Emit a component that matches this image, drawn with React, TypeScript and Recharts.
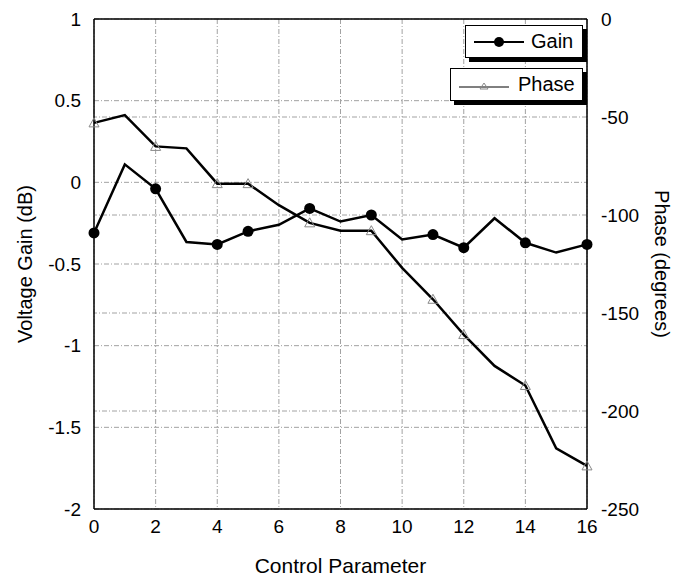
import React from 'react';
import { LineChart, Line, XAxis, YAxis, CartesianGrid, Legend, ReferenceLine } from 'recharts';

// control parameter steps
const controlParam = [0, 1, 2, 3, 4, 5, 6, 7, 8, 9, 10, 11, 12, 13, 14, 15, 16];
// voltage gain, dB (left axis)
const gainDb = [-0.31, 0.11, -0.04, -0.365, -0.38, -0.3, -0.26, -0.16, -0.24, -0.2, -0.35, -0.32, -0.4, -0.22, -0.37, -0.43, -0.38];
// phase, degrees (right axis)
const phaseDeg = [-53, -49, -65, -66, -84, -84, -95, -104, -108, -108, -127, -143, -161, -177, -187, -219, -228];
// points that carry a marker
const markedPoints = [0, 2, 4, 5, 7, 9, 11, 12, 14, 16];

const xTicks = [0, 2, 4, 6, 8, 10, 12, 14, 16];
const gainTicks = [-2, -1.5, -1, -0.5, 0, 0.5, 1];
const phaseTicks = [-250, -200, -150, -100, -50, 0];

const data = controlParam.map((x, i) => ({ x, gain: gainDb[i], phase: phaseDeg[i] }));

const FONT = '"Liberation Sans", Arial, Helvetica, sans-serif';
const gridStroke = '#8a8a8a';
const gridDash = '5 2 1 2';

const GainDot = (props: any) => {
  const { cx, cy, payload } = props;
  if (!markedPoints.includes(payload.x)) return <g key={`g${payload.x}`} />;
  return <circle key={`g${payload.x}`} cx={cx} cy={cy} r={5.5} fill="#000" />;
};

const PhaseDot = (props: any) => {
  const { cx, cy, payload } = props;
  if (!markedPoints.includes(payload.x)) return <g key={`p${payload.x}`} />;
  return (
    <path
      key={`p${payload.x}`}
      d={`M${cx},${cy - 5} L${cx + 5},${cy + 4} L${cx - 5},${cy + 4} Z`}
      fill="none"
      stroke="#888"
      strokeWidth={1}
    />
  );
};

const boxStyle: React.CSSProperties = {
  display: 'flex',
  alignItems: 'center',
  height: 33,
  background: '#fff',
  border: '1.5px solid #000',
  boxShadow: '4px 4px 0 #000',
  boxSizing: 'border-box',
  fontSize: 20,
  color: '#000',
  fontFamily: FONT,
};

const renderLegend = () => (
  <div style={{ display: 'flex', flexDirection: 'column', alignItems: 'flex-end', gap: 10 }}>
    <div style={{ ...boxStyle, width: 118, paddingLeft: 8 }}>
      <svg width={52} height={14} style={{ marginRight: 5 }}>
        <line x1={0} y1={7} x2={50} y2={7} stroke="#000" strokeWidth={2} />
        <circle cx={25} cy={7} r={5} fill="#000" />
      </svg>
      Gain
    </div>
    <div style={{ ...boxStyle, width: 133, paddingLeft: 8 }}>
      <svg width={52} height={14} style={{ marginRight: 7 }}>
        <line x1={0} y1={9} x2={50} y2={9} stroke="#000" strokeWidth={1} />
        <path d="M25,5 L29,11 L21,11 Z" fill="none" stroke="#888" strokeWidth={1} />
      </svg>
      Phase
    </div>
  </div>
);

const App: React.FC = () => {
  return (
    <div style={{ position: 'absolute', left: 0, top: 0, width: 681, height: 577, background: '#fff', fontFamily: FONT }}>
      <LineChart width={681} height={577} data={data} margin={{ top: 19, right: 34, left: 34, bottom: 38 }}>
        <CartesianGrid yAxisId="left" stroke={gridStroke} strokeDasharray={gridDash} strokeWidth={0.8} />
        {/* right-axis grid lines */}
        {phaseTicks.slice(1, -1).map((v) => (
          <ReferenceLine
            key={`pg${v}`}
            yAxisId="right"
            y={v}
            stroke={gridStroke}
            strokeDasharray={gridDash}
            strokeWidth={0.8}
          />
        ))}
        <XAxis
          dataKey="x"
          type="number"
          domain={[0, 16]}
          ticks={xTicks}
          height={30}
          tickLine={false}
          tickSize={0}
          tickMargin={11}
          axisLine={{ stroke: '#000', strokeWidth: 1.5 }}
          tick={{ fill: '#000', fontSize: 19 }}
          label={{ value: 'Control Parameter', position: 'bottom', offset: 19, fill: '#000', fontSize: 21 }}
        />
        <YAxis
          yAxisId="left"
          orientation="left"
          domain={[-2, 1]}
          ticks={gainTicks}
          width={60}
          tickLine={false}
          tickSize={0}
          tickMargin={13}
          axisLine={{ stroke: '#000', strokeWidth: 1.5 }}
          tick={{ fill: '#000', fontSize: 19 }}
          label={{ value: 'Voltage Gain (dB)', angle: -90, position: 'left', offset: 9, fill: '#000', fontSize: 20, style: { textAnchor: 'middle' } }}
        />
        <YAxis
          yAxisId="right"
          orientation="right"
          domain={[-250, 0]}
          ticks={phaseTicks}
          width={60}
          tickLine={false}
          tickSize={0}
          tickMargin={14}
          axisLine={{ stroke: '#000', strokeWidth: 1.5 }}
          tick={{ fill: '#000', fontSize: 19 }}
          label={{ value: 'Phase (degrees)', angle: 90, position: 'right', offset: 15, fill: '#000', fontSize: 20, style: { textAnchor: 'middle' } }}
        />
        <ReferenceLine yAxisId="left" y={1} stroke="#000" strokeWidth={1.5} />
        <Legend
          layout="horizontal"
          verticalAlign="middle"
          align="center"
          content={renderLegend}
          wrapperStyle={{ top: 25, left: 440, width: 143, height: 'auto' }}
        />
        <Line
          yAxisId="right"
          type="linear"
          dataKey="phase"
          stroke="#000"
          strokeWidth={2.5}
          dot={PhaseDot}
          activeDot={false}
          isAnimationActive={false}
        />
        <Line
          yAxisId="left"
          type="linear"
          dataKey="gain"
          stroke="#000"
          strokeWidth={2.5}
          dot={GainDot}
          activeDot={false}
          isAnimationActive={false}
        />
      </LineChart>
    </div>
  );
};

export default App;
